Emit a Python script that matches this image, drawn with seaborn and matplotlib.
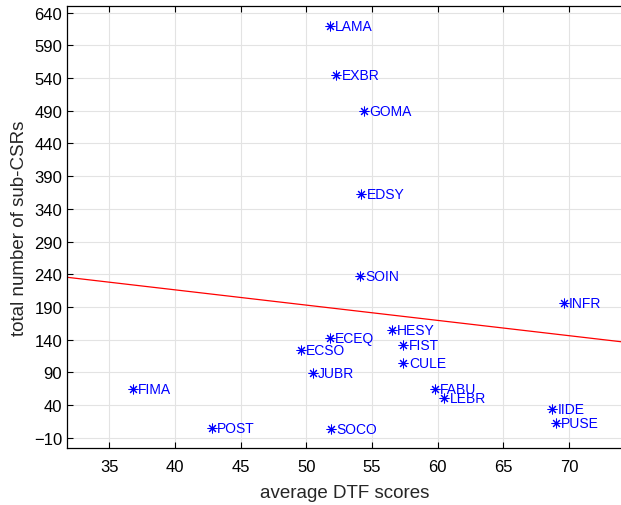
import numpy as np
import pandas as pd
import matplotlib
matplotlib.use("Agg")
import matplotlib.pyplot as plt
import seaborn as sns

labels = ["LAMA", "EXBR", "GOMA", "EDSY", "SOIN", "INFR", "HESY", "ECEQ", "ECSO",
          "FIST", "CULE", "JUBR", "FIMA", "FABU", "LEBR", "IIDE", "PUSE", "SOCO", "POST"]
dtf_scores = [51.8, 52.3, 54.4, 54.2, 54.1, 69.6, 56.5, 51.8, 49.6,
              57.4, 57.4, 50.5, 36.8, 59.8, 60.5, 68.7, 69.0, 51.9, 42.8]
sub_csrs = [620, 545, 490, 363, 237, 196, 155, 143, 125,
            132, 104, 89, 64, 65, 51, 34, 12, 4, 5]
x_ticks = [35, 40, 45, 50, 55, 60, 65, 70]
y_ticks = [-10, 40, 90, 140, 190, 240, 290, 340, 390, 440, 490, 540, 590, 640]

df = pd.DataFrame({"dtf": dtf_scores, "n": sub_csrs, "label": labels})

sns.set_style("white")
plt.rcParams["font.family"] = ["Liberation Sans", "DejaVu Sans"]

fig = plt.figure(figsize=(6.21, 5.06), dpi=100)
ax = fig.add_axes([0.108, 0.112, 0.893, 0.874])
ax.set_xlim(31.8, 74.0)
ax.set_ylim(-26, 650)

sns.regplot(data=df, x="dtf", y="n", ci=None, truncate=False, scatter=False,
            line_kws=dict(color="red", lw=0.9), ax=ax)
sns.scatterplot(data=df, x="dtf", y="n", marker=(8, 2, 0), s=42, color="blue",
                linewidth=0.75, edgecolor="blue", ax=ax, zorder=3)
for _, r in df.iterrows():
    ax.annotate(r["label"], (r["dtf"], r["n"]), xytext=(3.8, 0), textcoords="offset points",
                va="center", ha="left", color="blue", fontsize=10)

ax.set_xticks(x_ticks)
ax.set_yticks(y_ticks)
ax.grid(True, color="#e3e3e3", lw=0.8)
ax.set_axisbelow(True)
ax.tick_params(direction="in", length=4, width=0.8, labelsize=12, colors="black",
               top=True, right=False, bottom=True, left=True)
ax.tick_params(axis="x", pad=8)
ax.spines["right"].set_visible(False)
for s in ax.spines.values():
    s.set_color("black")
    s.set_linewidth(0.9)
ax.set_xlabel("average DTF scores", fontsize=13.5, labelpad=7)
ax.set_ylabel("total number of sub-CSRs", fontsize=13.5, labelpad=4)

fig.savefig("out.png", dpi=100)
